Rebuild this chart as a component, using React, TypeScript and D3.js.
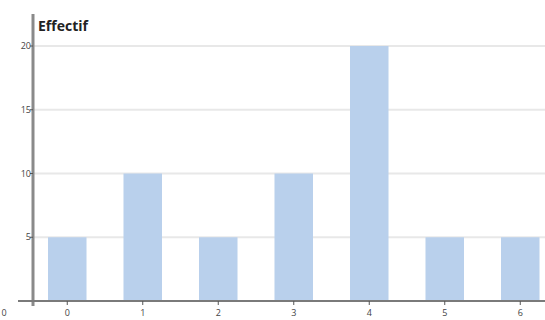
import React from "react";
import * as d3 from "d3";

const categories = ["0", "1", "2", "3", "4", "5", "6"];
const values = [5, 10, 5, 10, 20, 5, 5];
const yTicks = [5, 10, 15, 20];
const yTitle = "Effectif";

const W = 545;
const H = 320;
const axisX = 33;
const axisY = 301;

export default function App() {
  const x = d3.scaleBand<string>().domain(categories).range([29.5, 558]).paddingInner(0.49).paddingOuter(0.245);
  const y = d3.scaleLinear().domain([0, 20]).range([axisY, 46]);
  const font = "'Open Sans', 'DejaVu Sans', sans-serif";
  return (
    <div style={{ position: "absolute", left: 0, top: 0 }}>
      <svg width={W} height={H} style={{ display: "block", background: "#fff" }} fontFamily={font}>
        {yTicks.map((t) => (
          <line key={"g" + t} x1={axisX} x2={W} y1={y(t)} y2={y(t)} stroke="#e8e8e8" strokeWidth={2} />
        ))}
        {categories.map((c, i) => (
          <rect key={c} x={x(c)} y={y(values[i])} width={x.bandwidth()} height={axisY - y(values[i])} fill="#b9d0ec" />
        ))}
        <line x1={axisX} x2={axisX} y1={14} y2={306} stroke="#8a8a8a" strokeWidth={3} />
        <line x1={18} x2={W} y1={axisY} y2={axisY} stroke="#7a7a7a" strokeWidth={2} />
        {yTicks.map((t) => (
          <g key={"t" + t}>
            <line x1={axisX - 3} x2={axisX} y1={y(t)} y2={y(t)} stroke="#555" strokeWidth={1} />
            <text x={axisX - 2} y={y(t) + 3} textAnchor="end" fontSize={9} fill="#444">{t}</text>
          </g>
        ))}
        <text x={4} y={316} fontSize={9} fill="#444" textAnchor="middle">0</text>
        {categories.map((c) => {
          const cx = (x(c) as number) + x.bandwidth() / 2;
          return (
            <g key={"x" + c}>
              <line x1={cx} x2={cx} y1={axisY} y2={axisY + 4} stroke="#555" strokeWidth={1} />
              <text x={cx} y={316} textAnchor="middle" fontSize={9} fill="#444">{c}</text>
            </g>
          );
        })}
        <text x={38} y={31} fontSize={14} fontWeight="bold" fill="#222">{yTitle}</text>
      </svg>
    </div>
  );
}
